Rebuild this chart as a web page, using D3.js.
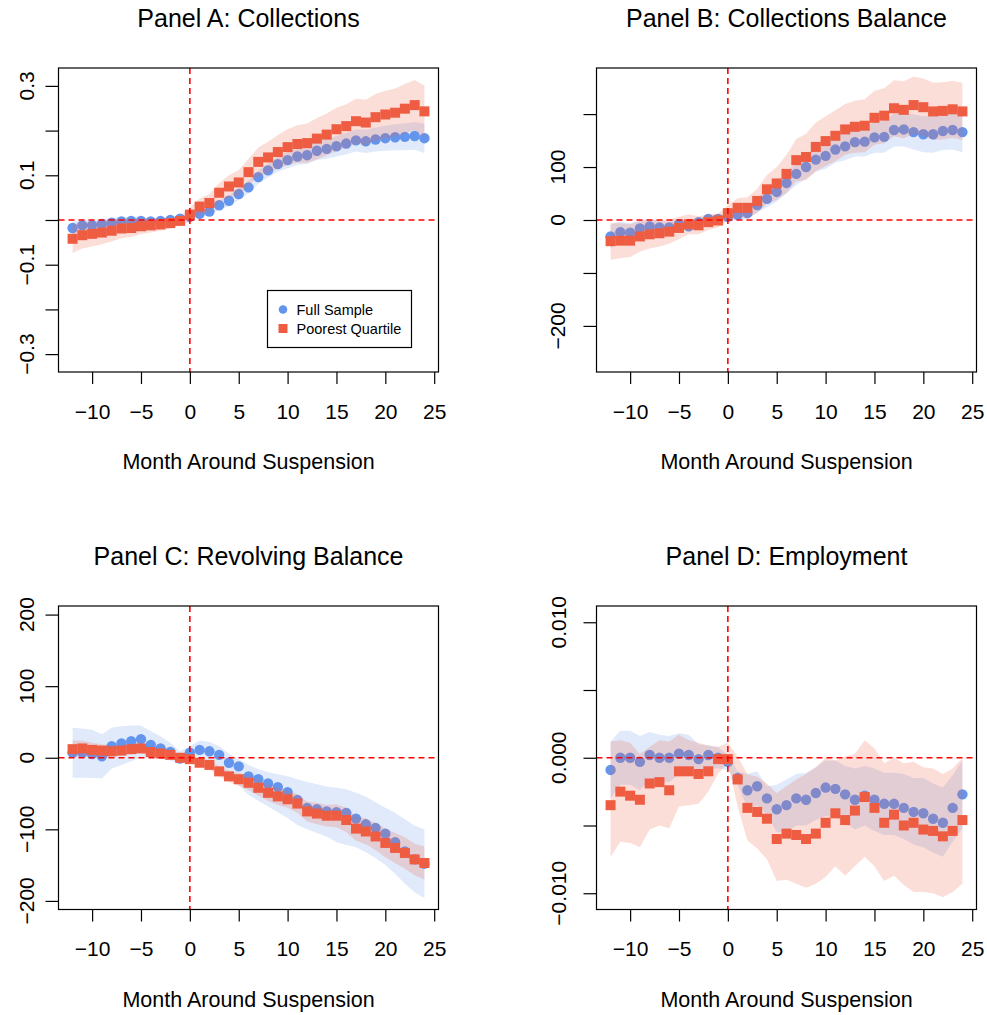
<!DOCTYPE html>
<html>
<head>
<meta charset="utf-8">
<script src="https://cdn.jsdelivr.net/npm/d3@7"></script>
<style>
body { margin: 0; background: #fff; }
svg { font-family: "Liberation Sans", Arial, Helvetica, sans-serif; }
</style>
</head>
<body>
<svg id="chart" width="987" height="1015"></svg>
<script>
let months = [-12,-11,-10,-9,-8,-7,-6,-5,-4,-3,-2,-1,0,1,2,3,4,5,6,7,8,9,10,11,12,13,14,15,16,17,18,19,20,21,22,23,24]
let xTicks = [-10,-5,0,5,10,15,20,25]
let seriesNames = ['Full Sample','Poorest Quartile']

// Panel A: Collections
let aFull   = [-0.018,-0.012,-0.012,-0.009,-0.006,-0.003,-0.002,-0.002,-0.003,-0.002,0.000,0.003,0.007,0.014,0.019,0.033,0.043,0.058,0.073,0.096,0.111,0.125,0.134,0.142,0.145,0.155,0.159,0.165,0.171,0.178,0.176,0.180,0.183,0.185,0.186,0.188,0.183]
let aFullLo = [-0.032,-0.025,-0.024,-0.020,-0.016,-0.012,-0.010,-0.009,-0.009,-0.007,-0.004,0.000,0.004,0.008,0.011,0.023,0.031,0.045,0.059,0.081,0.095,0.108,0.116,0.123,0.125,0.134,0.137,0.142,0.147,0.153,0.150,0.153,0.155,0.156,0.156,0.157,0.150]
let aFullHi = [-0.004,0.001,0.000,0.002,0.004,0.006,0.006,0.005,0.003,0.003,0.004,0.006,0.010,0.020,0.027,0.043,0.055,0.071,0.087,0.111,0.127,0.142,0.152,0.161,0.165,0.176,0.181,0.188,0.195,0.203,0.202,0.207,0.211,0.214,0.216,0.219,0.216]
let aPoor   = [-0.042,-0.034,-0.031,-0.028,-0.024,-0.019,-0.018,-0.014,-0.012,-0.010,-0.007,-0.002,0.012,0.030,0.038,0.061,0.075,0.084,0.107,0.130,0.140,0.152,0.163,0.170,0.172,0.182,0.191,0.203,0.210,0.221,0.218,0.230,0.236,0.240,0.249,0.257,0.243]
let aPoorLo = [-0.074,-0.064,-0.059,-0.054,-0.048,-0.041,-0.038,-0.032,-0.028,-0.024,-0.019,-0.012,-0.004,0.012,0.018,0.039,0.050,0.056,0.077,0.098,0.105,0.114,0.123,0.128,0.128,0.136,0.144,0.155,0.161,0.171,0.167,0.178,0.183,0.186,0.194,0.201,0.185]
let aPoorHi = [-0.010,-0.004,-0.003,-0.002,0.000,0.003,0.002,0.004,0.004,0.004,0.005,0.008,0.028,0.048,0.058,0.083,0.100,0.112,0.137,0.162,0.175,0.190,0.203,0.212,0.216,0.228,0.238,0.251,0.259,0.271,0.269,0.282,0.289,0.294,0.304,0.313,0.301]
let aTicks  = [0.3,0.2,0.1,0,-0.1,-0.2,-0.3]
let aLabels = ['0.3','','0.1','','\u22120.1','','\u22120.3']

// Panel B: Collections Balance
let bFull   = [-31,-23,-24,-16,-12,-14,-14,-8,-12,-4,2,2,6,10,13,28,40,53,70,87,100,114,121,133,139,147,148,156,157,170,171,166,162,162,168,170,166]
let bFullLo = [-53,-43,-42,-32,-26,-26,-25,-18,-21,-12,-5,-4,-2,0,1,14,24,35,50,66,78,91,97,108,113,120,120,127,127,139,139,133,128,127,132,133,128]
let bFullHi = [-9,-3,-6,0,2,-2,-3,2,-3,4,9,8,14,20,25,42,56,71,90,108,122,137,145,158,165,174,176,185,187,201,203,199,196,197,204,207,204]
let bPoor   = [-40,-39,-39,-31,-27,-25,-22,-15,-8,-10,-4,-1,13,23,23,36,58,69,87,113,119,138,149,159,171,176,178,193,197,211,208,217,213,205,206,209,205]
let bPoorLo = [-75,-72,-70,-60,-54,-50,-45,-36,-27,-27,-19,-14,-2,5,3,13,31,38,51,73,75,92,102,111,123,127,128,142,145,158,154,163,159,151,152,155,151]
let bPoorHi = [-5,-6,-8,-2,0,0,1,6,11,7,11,12,28,41,43,59,85,100,123,153,163,184,196,207,219,225,228,244,249,264,262,271,267,259,260,263,259]
let bTicks  = [200,100,0,-100,-200]
let bLabels = ['','100','0','','\u2212200']

// Panel C: Revolving Balance
let cFull   = [7,7,5,2,16,20,23,26,18,13,8,-1,7,11,9,4,-7,-12,-26,-30,-36,-41,-48,-59,-70,-72,-75,-76,-77,-85,-93,-98,-106,-118,-131,-142,-148]
let cFullLo = [-28,-28,-28,-29,-15,-10,-5,0,0,-2,-4,-8,-2,-2,-6,-14,-26,-38,-52,-60,-68,-76,-84,-94,-100,-105,-110,-118,-122,-125,-132,-140,-150,-162,-176,-188,-196]
let cFullHi = [42,41,39,33,42,44,45,45,37,30,21,9,16,24,22,16,6,-2,-10,-16,-20,-23,-26,-30,-34,-37,-40,-42,-44,-49,-54,-62,-70,-77,-86,-95,-100]
let cPoor   = [12,13,11,10,9,10,12,13,8,6,4,0,-2,-7,-10,-19,-26,-30,-35,-42,-49,-54,-58,-64,-75,-78,-81,-81,-87,-99,-103,-110,-119,-126,-133,-142,-147]
let cPoorLo = [0,2,1,1,1,3,5,7,2,1,0,-3,-6,-12,-16,-26,-34,-39,-45,-53,-60,-66,-70,-77,-89,-93,-96,-97,-104,-116,-121,-129,-139,-147,-155,-164,-170]
let cPoorHi = [24,24,21,19,17,17,19,19,14,11,8,3,2,-2,-4,-12,-18,-21,-25,-31,-38,-42,-46,-51,-61,-63,-66,-65,-70,-82,-85,-91,-99,-105,-111,-120,-124]
let cTicks  = [200,100,0,-100,-200]
let cLabels = ['200','100','0','\u2212100','\u2212200']

// Panel D: Employment
let dFull   = [-0.0009,0.0000,0.0000,-0.0003,0.0002,0.0000,0.0000,0.0003,0.0002,-0.0001,0.0002,0.0000,-0.0003,-0.0015,-0.0024,-0.0021,-0.0030,-0.0038,-0.0035,-0.0030,-0.0031,-0.0026,-0.0022,-0.0023,-0.0027,-0.0031,-0.0028,-0.0031,-0.0034,-0.0034,-0.0037,-0.0040,-0.0041,-0.0045,-0.0048,-0.0037,-0.0027]
let dFullLo = [-0.0030,-0.0020,-0.0020,-0.0024,-0.0016,-0.0017,-0.0018,-0.0012,-0.0013,-0.0014,-0.0008,-0.0008,-0.0009,-0.0020,-0.0037,-0.0035,-0.0042,-0.0055,-0.0055,-0.0050,-0.0050,-0.0046,-0.0043,-0.0044,-0.0048,-0.0053,-0.0050,-0.0054,-0.0057,-0.0057,-0.0060,-0.0064,-0.0066,-0.0070,-0.0073,-0.0062,-0.0052]
let dFullHi = [0.0012,0.0020,0.0020,0.0016,0.0019,0.0017,0.0016,0.0018,0.0017,0.0010,0.0009,0.0008,0.0002,-0.0010,-0.0012,-0.0010,-0.0021,-0.0020,-0.0016,-0.0012,-0.0011,-0.0007,-0.0002,-0.0002,-0.0006,-0.0008,-0.0006,-0.0008,-0.0011,-0.0011,-0.0012,-0.0015,-0.0015,-0.0019,-0.0022,-0.0013,-0.0002]
let dPoor   = [-0.0035,-0.0025,-0.0028,-0.0031,-0.0019,-0.0018,-0.0024,-0.0010,-0.0010,-0.0012,-0.0010,-0.0001,-0.0001,-0.0016,-0.0037,-0.0040,-0.0045,-0.0060,-0.0056,-0.0057,-0.0060,-0.0056,-0.0048,-0.0041,-0.0046,-0.0039,-0.0029,-0.0037,-0.0048,-0.0042,-0.0050,-0.0048,-0.0053,-0.0054,-0.0058,-0.0054,-0.0046]
let dPoorLo = [-0.0073,-0.0062,-0.0063,-0.0066,-0.0053,-0.0050,-0.0052,-0.0036,-0.0035,-0.0034,-0.0025,-0.0012,-0.0004,-0.0036,-0.0061,-0.0067,-0.0075,-0.0091,-0.0090,-0.0093,-0.0096,-0.0093,-0.0088,-0.0080,-0.0087,-0.0080,-0.0073,-0.0080,-0.0091,-0.0087,-0.0094,-0.0099,-0.0099,-0.0100,-0.0103,-0.0099,-0.0093]
let dPoorHi = [0.0012,0.0013,0.0011,0.0003,0.0008,0.0013,0.0012,0.0017,0.0013,0.0011,0.0009,0.0008,0.0011,0.0001,-0.0012,-0.0014,-0.0019,-0.0026,-0.0021,-0.0016,-0.0012,-0.0007,0.0000,-0.0002,0.0001,0.0003,0.0013,0.0007,-0.0004,0.0000,-0.0004,-0.0003,-0.0007,-0.0008,-0.0012,-0.0008,0.0000]
let dTicks  = [0.010,0.005,0,-0.005,-0.010]
let dLabels = ['0.010','','0.000','','\u22120.010']

let blue = '#6495ED'
let red = '#EE5C42'
let svg = d3.select('#chart')

let panels = [
  {title: 'Panel A: Collections', box: [58.5, 68, 438.5, 372], ydom: [-0.34, 0.34], ticks: aTicks, labels: aLabels, labOff: 25,
   full: aFull, fullLo: aFullLo, fullHi: aFullHi, poor: aPoor, poorLo: aPoorLo, poorHi: aPoorHi, legend: true},
  {title: 'Panel B: Collections Balance', box: [596.5, 68, 976.5, 372], ydom: [-287, 287], ticks: bTicks, labels: bLabels, labOff: 32,
   full: bFull, fullLo: bFullLo, fullHi: bFullHi, poor: bPoor, poorLo: bPoorLo, poorHi: bPoorHi},
  {title: 'Panel C: Revolving Balance', box: [58.5, 606, 438.5, 909.5], ydom: [-212, 212], ticks: cTicks, labels: cLabels, labOff: 25,
   full: cFull, fullLo: cFullLo, fullHi: cFullHi, poor: cPoor, poorLo: cPoorLo, poorHi: cPoorHi},
  {title: 'Panel D: Employment', box: [596.5, 606, 976.5, 909.5], ydom: [-0.0112, 0.0112], ticks: dTicks, labels: dLabels, labOff: 31,
   full: dFull, fullLo: dFullLo, fullHi: dFullHi, poor: dPoor, poorLo: dPoorLo, poorHi: dPoorHi},
]

panels.forEach(drawPanel)

function drawPanel(p, k){
  let [x0, y0, x1, y1] = p.box
  let x = d3.scaleLinear().domain([-13.44, 25.44]).range([x0, x1])
  let y = d3.scaleLinear().domain(p.ydom).range([y1, y0])
  let g = svg.append('g')

  g.append('clipPath').attr('id', 'clip' + k)
    .append('rect').attr('x', x0).attr('y', y0).attr('width', x1 - x0).attr('height', y1 - y0)
  let plot = g.append('g').attr('clip-path', `url(#clip${k})`)

  let band = d3.area()
    .x(d => x(d[0]))
    .y0(d => y(d[1]))
    .y1(d => y(d[2]))

  // full sample: band then dots
  plot.append('path')
    .datum(d3.zip(months, p.fullLo, p.fullHi))
    .attr('d', band)
    .attr('fill', blue)
    .attr('fill-opacity', 0.2)
  plot.selectAll('.dot')
    .data(d3.zip(months, p.full))
    .join('circle')
    .attr('class', 'dot')
    .attr('cx', d => x(d[0]))
    .attr('cy', d => y(d[1]))
    .attr('r', 5.2)
    .attr('fill', blue)

  // poorest quartile: band then squares
  plot.append('path')
    .datum(d3.zip(months, p.poorLo, p.poorHi))
    .attr('d', band)
    .attr('fill', red)
    .attr('fill-opacity', 0.2)
  plot.selectAll('.sq')
    .data(d3.zip(months, p.poor))
    .join('rect')
    .attr('class', 'sq')
    .attr('x', d => x(d[0]) - 5)
    .attr('y', d => y(d[1]) - 5)
    .attr('width', 10)
    .attr('height', 10)
    .attr('fill', red)

  // reference lines
  plot.append('line')
    .attr('x1', x(0)).attr('x2', x(0)).attr('y1', y0).attr('y2', y1)
    .attr('stroke', 'red').attr('stroke-width', 1.6).attr('stroke-dasharray', '6,4')
  plot.append('line')
    .attr('x1', x0).attr('x2', x1).attr('y1', y(0)).attr('y2', y(0))
    .attr('stroke', 'red').attr('stroke-width', 1.6).attr('stroke-dasharray', '6,4')

  // box
  g.append('rect')
    .attr('x', x0).attr('y', y0).attr('width', x1 - x0).attr('height', y1 - y0)
    .attr('fill', 'none').attr('stroke', '#000').attr('stroke-width', 1.2)

  // x axis
  let xa = g.append('g')
    .attr('transform', `translate(0,${y1})`)
    .call(d3.axisBottom(x).tickValues(xTicks).tickSize(12).tickPadding(20)
      .tickFormat(d => d < 0 ? '\u2212' + Math.abs(d) : d))
  xa.select('.domain').remove()
  xa.selectAll('line').attr('stroke', '#000').attr('stroke-width', 1.2)
  xa.selectAll('text').attr('font-size', 21).attr('font-family', null).attr('fill', '#000')

  // y axis
  let ya = g.append('g')
    .attr('transform', `translate(${x0},0)`)
    .call(d3.axisLeft(y).tickValues(p.ticks).tickSize(13).tickFormat(''))
  ya.select('.domain').remove()
  ya.selectAll('line').attr('stroke', '#000').attr('stroke-width', 1.2)
  g.selectAll('.ylab')
    .data(p.ticks)
    .join('text')
    .attr('class', 'ylab')
    .attr('transform', d => `translate(${x0 - p.labOff},${y(d)}) rotate(-90)`)
    .attr('text-anchor', 'middle')
    .attr('font-size', 21)
    .text((d, i) => p.labels[i])

  // titles
  g.append('text')
    .attr('x', (x0 + x1) / 2).attr('y', y0 - 41)
    .attr('text-anchor', 'middle').attr('font-size', 25)
    .text(p.title)
  g.append('text')
    .attr('x', (x0 + x1) / 2).attr('y', y1 + 97)
    .attr('text-anchor', 'middle').attr('font-size', 21.5)
    .text('Month Around Suspension')

  if (p.legend) {
    let lg = g.append('g').attr('transform', 'translate(267.5,290.5)')
    lg.append('rect').attr('width', 144).attr('height', 57)
      .attr('fill', '#fff').attr('stroke', '#000').attr('stroke-width', 1.2)
    lg.append('circle').attr('cx', 15.5).attr('cy', 19).attr('r', 4.3).attr('fill', blue)
    lg.append('rect').attr('x', 11).attr('y', 33.5).attr('width', 9).attr('height', 9).attr('fill', red)
    lg.selectAll('.lt')
      .data(seriesNames)
      .join('text')
      .attr('class', 'lt')
      .attr('x', 29)
      .attr('y', (d, i) => 24 + i * 19)
      .attr('font-size', 14.5)
      .text(d => d)
  }
}
</script>
</body>
</html>
